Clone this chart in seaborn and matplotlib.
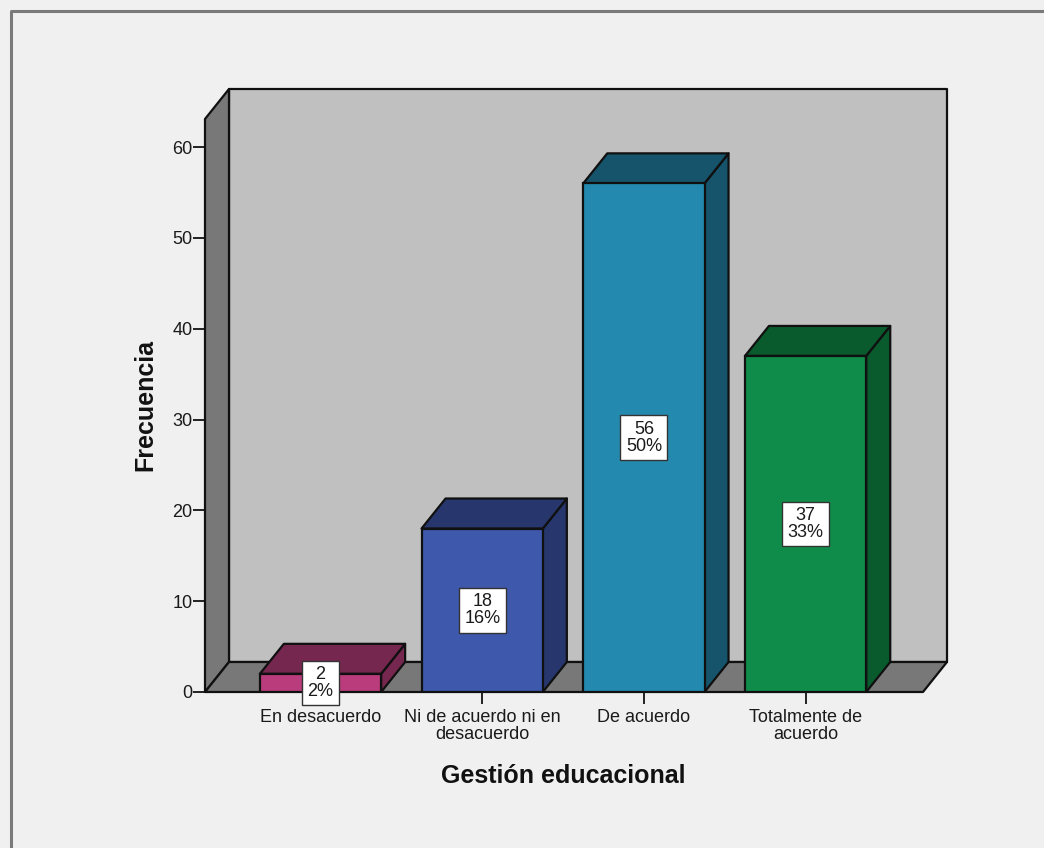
import matplotlib
matplotlib.use("Agg")
import matplotlib.pyplot as plt
from matplotlib.patches import Polygon
import pandas as pd
import seaborn as sns

categories = ["En desacuerdo", "Ni de acuerdo ni en\ndesacuerdo", "De acuerdo", "Totalmente de\nacuerdo"]
frequencies = [2, 18, 56, 37]
percent_labels = ["2%", "16%", "50%", "33%"]
front_colors = ["#BA3C7C", "#3E58AC", "#2489AE", "#0F8C4A"]
dark_colors = ["#76274F", "#27376D", "#16546C", "#095A2C"]
y_ticks = [0, 10, 20, 30, 40, 50, 60]
x_title = "Gestión educacional"
y_title = "Frecuencia"

W, H = 1044, 848
sns.set_theme(style="white")
plt.rcParams["font.family"] = ["Liberation Sans", "DejaVu Sans"]

fig = plt.figure(figsize=(W / 100, H / 100), dpi=100, facecolor="#F0F0F0")
L, R, B, T = 205, 923, 692, 119
ax = fig.add_axes([L / W, 1 - B / H, (R - L) / W, (B - T) / H])
ax.patch.set_visible(False)

df = pd.DataFrame({"cat": categories, "freq": frequencies})
sns.barplot(data=df, x="cat", y="freq", hue="cat", palette=front_colors, legend=False,
            width=0.75, saturation=1, edgecolor="#101010", linewidth=1.6, ax=ax, zorder=5)

unit_x = 161.7
unit_y = 9.083
ax.set_xlim((L - 320.5) / unit_x, (R - 320.5) / unit_x)
ax.set_ylim(0, (B - T) / unit_y)
x0, x1 = ax.get_xlim()
y0, y1 = ax.get_ylim()
dx = 24 / unit_x
dy = 30 / unit_y
line = dict(edgecolor="#101010", linewidth=1.6, joinstyle="round", clip_on=False)

# Box walls
ax.add_patch(Polygon([(x0 + dx, y0 + dy), (x1 + dx, y0 + dy), (x1 + dx, y1 + dy), (x0 + dx, y1 + dy)],
                     facecolor="#C0C0C0", zorder=1, **line))
ax.add_patch(Polygon([(x0, y0), (x0 + dx, y0 + dy), (x0 + dx, y1 + dy), (x0, y1)],
                     facecolor="#787878", zorder=2, **line))
ax.add_patch(Polygon([(x0, y0), (x1, y0), (x1 + dx, y0 + dy), (x0 + dx, y0 + dy)],
                     facecolor="#787878", zorder=2, **line))

# Side and top faces derived from the bars
for bar, dark, n, pct in zip(ax.patches[:len(frequencies)], dark_colors, frequencies, percent_labels):
    a, w, h = bar.get_x(), bar.get_width(), bar.get_height()
    ax.add_patch(Polygon([(a + w, 0), (a + w + dx, dy), (a + w + dx, h + dy), (a + w, h)],
                         facecolor=dark, zorder=4, **line))
    ax.add_patch(Polygon([(a, h), (a + w, h), (a + w + dx, h + dy), (a + dx, h + dy)],
                         facecolor=dark, zorder=4, **line))
    ax.text(a + w / 2, h / 2, f"{n}\n{pct}", ha="center", va="center", fontsize=13, color="#1A1A1A",
            linespacing=1.0, zorder=8, clip_on=False,
            bbox=dict(boxstyle="square,pad=0.3", facecolor="white", edgecolor="#333333", linewidth=1.0))

for side in ax.spines.values():
    side.set_visible(False)
ax.set_yticks(y_ticks)
ax.tick_params(axis="y", left=True, length=8.5, width=1.4, color="#222222", pad=0.5, labelsize=13, labelcolor="#1A1A1A")
ax.tick_params(axis="x", bottom=True, length=8.5, width=1.4, color="#222222", pad=4, labelsize=13, labelcolor="#1A1A1A")
for lab in ax.get_xticklabels():
    lab.set_linespacing(1.0)
ax.set_xlabel("")
ax.set_ylabel("")
fig.text(563 / W, 1 - 776 / H, x_title, ha="center", va="center", fontsize=18, fontweight="bold", color="#111111")
fig.text(145 / W, 1 - 405 / H, y_title, ha="center", va="center", rotation=90, fontsize=18, fontweight="bold", color="#111111")

# Outer frame of the viewer
fig.add_artist(plt.Line2D([11 / W, 11 / W, 1], [0, 1 - 11 / H, 1 - 11 / H], color="#7A7A7A", linewidth=2.2))

fig.savefig("out.png", dpi=100, facecolor=fig.get_facecolor())
